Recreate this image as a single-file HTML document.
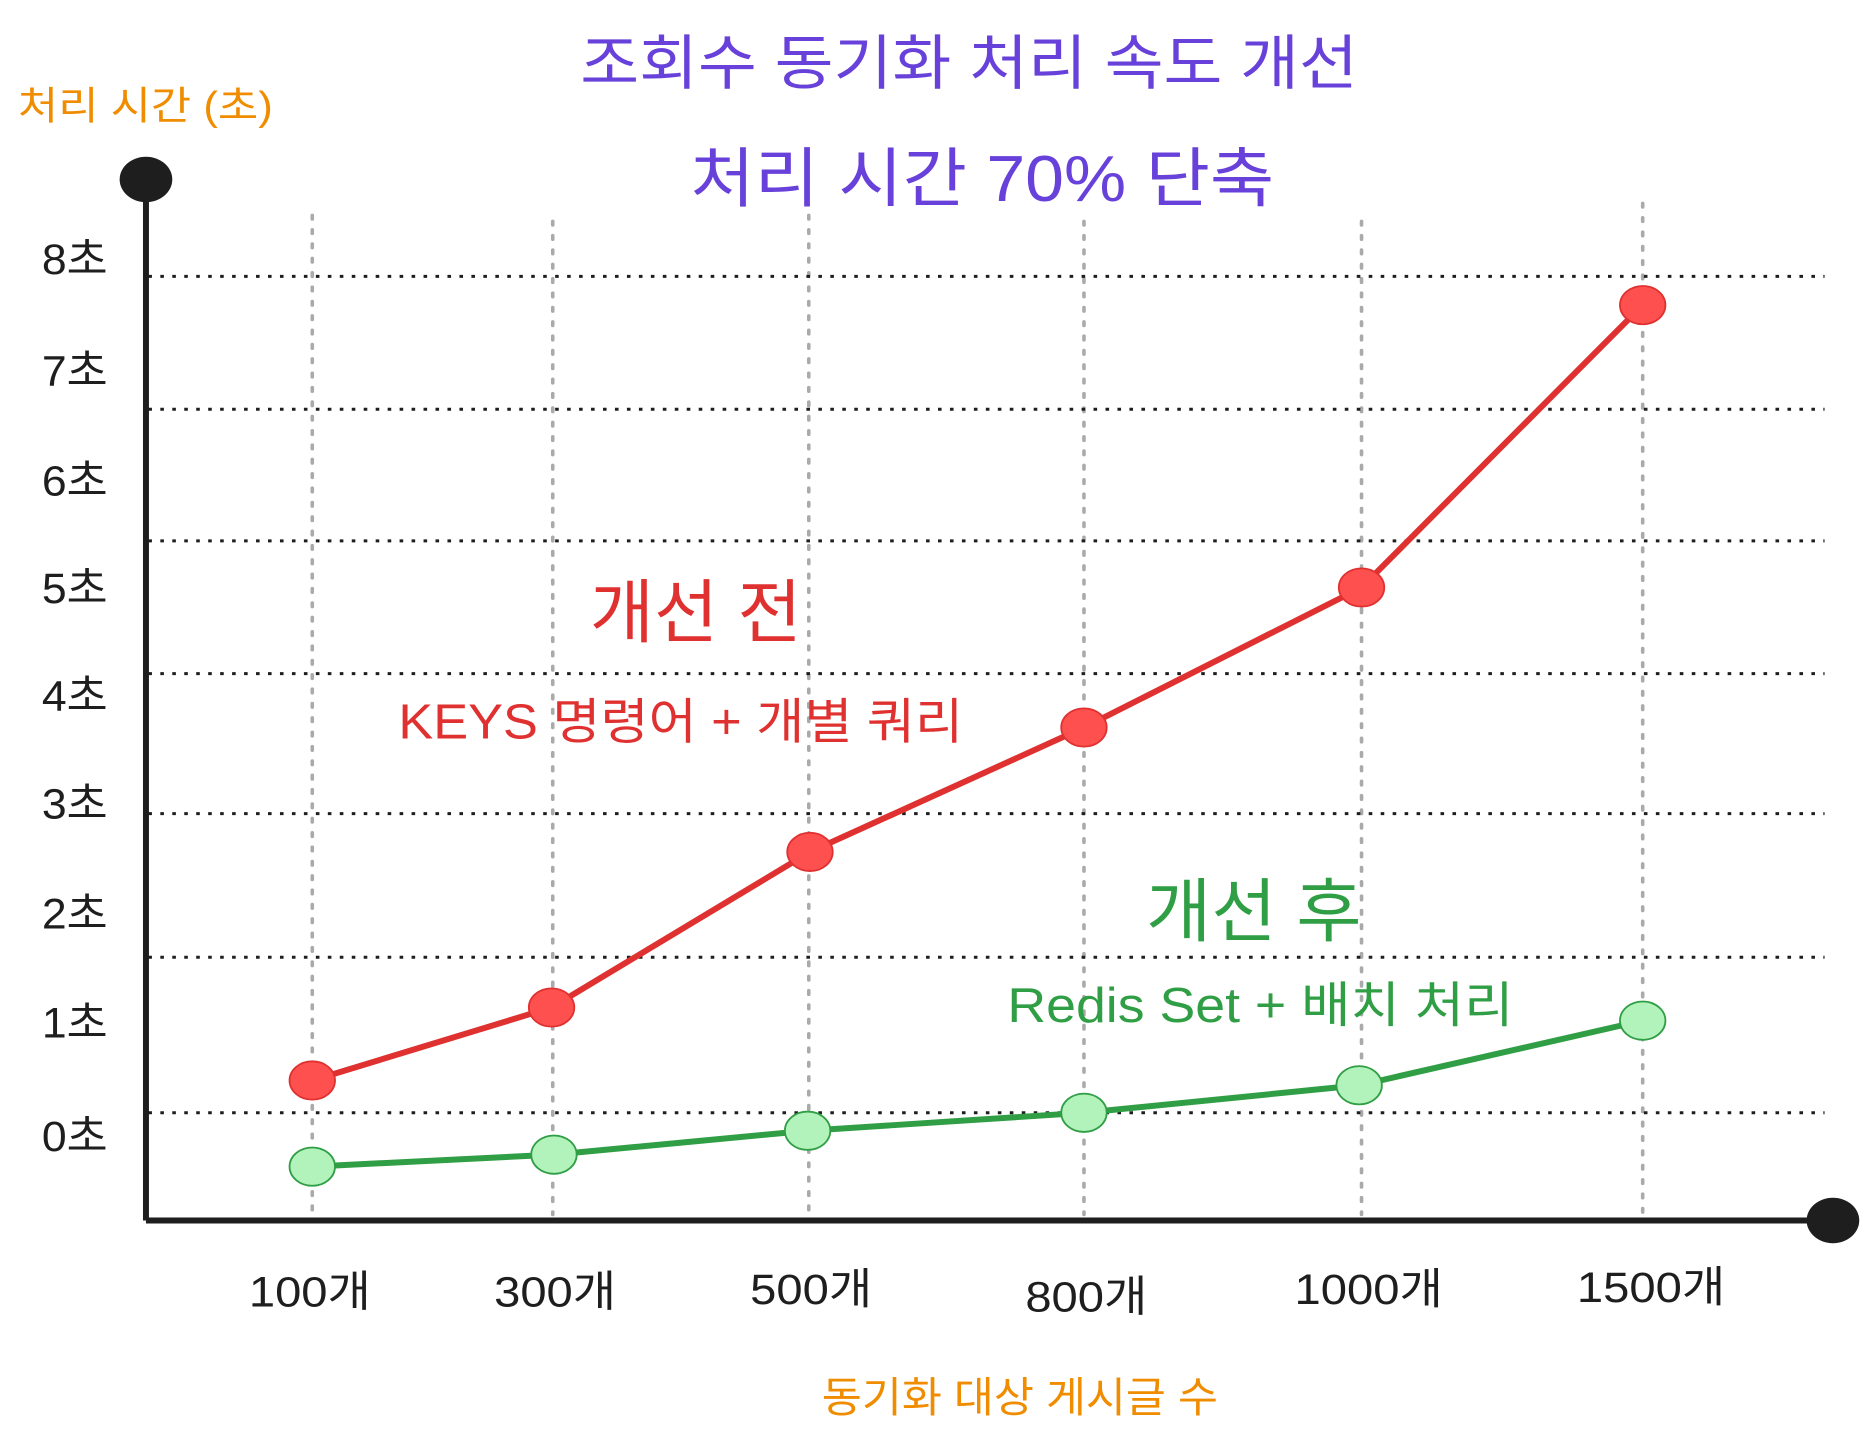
<!DOCTYPE html>
<html><head><meta charset="utf-8"><style>
html,body{margin:0;padding:0;background:#fff;}
svg{display:block;}
text{font-family:"Liberation Sans","Noto Sans CJK KR",sans-serif;}
</style></head><body>
<svg width="1876" height="1449" viewBox="0 0 1568 1211" preserveAspectRatio="none" xmlns="http://www.w3.org/2000/svg">
<rect width="1568" height="1211" fill="#fff"/>
<g stroke="#aaa" stroke-width="3" stroke-dasharray="3,9" stroke-linecap="round">
<line x1="261" y1="180" x2="261" y2="1015"/>
<line x1="462" y1="185" x2="462" y2="1015"/>
<line x1="676" y1="180" x2="676" y2="1015"/>
<line x1="906" y1="185" x2="906" y2="1015"/>
<line x1="1138" y1="185" x2="1138" y2="1015"/>
<line x1="1373" y1="170" x2="1373" y2="1015"/>
</g>
<g stroke="#1e1e1e" stroke-width="2.5" stroke-dasharray="3,7">
<line x1="124" y1="231" x2="1525" y2="231"/>
<line x1="124" y1="342" x2="1525" y2="342"/>
<line x1="124" y1="452" x2="1525" y2="452"/>
<line x1="124" y1="563" x2="1525" y2="563"/>
<line x1="124" y1="680" x2="1525" y2="680"/>
<line x1="124" y1="800" x2="1525" y2="800"/>
<line x1="124" y1="930" x2="1525" y2="930"/>
</g>
<line x1="122" y1="150" x2="122" y2="1020" stroke="#1e1e1e" stroke-width="5"/>
<line x1="122" y1="1020" x2="1530" y2="1020" stroke="#1e1e1e" stroke-width="5"/>
<ellipse cx="122" cy="150" rx="22" ry="19" fill="#1e1e1e"/>
<ellipse cx="1532" cy="1020" rx="22" ry="19" fill="#1e1e1e"/>
<polyline points="261,903 461,842 677,712 906,608 1138,491 1373,255" fill="none" stroke="#e03131" stroke-width="5"/>
<polyline points="261,975 463,965 675,945 906,930 1136,907 1373,853" fill="none" stroke="#2f9e44" stroke-width="5"/>
<g fill="#ff5050" stroke="#e03131" stroke-width="1.5">
<ellipse cx="261" cy="903" rx="19" ry="16"/><ellipse cx="461" cy="842" rx="19" ry="16"/><ellipse cx="677" cy="712" rx="19" ry="16"/><ellipse cx="906" cy="608" rx="19" ry="16"/><ellipse cx="1138" cy="491" rx="19" ry="16"/><ellipse cx="1373" cy="255" rx="19" ry="16"/>
</g>
<g fill="#b2f2bb" stroke="#2f9e44" stroke-width="1.5">
<ellipse cx="261" cy="975" rx="19" ry="16"/><ellipse cx="463" cy="965" rx="19" ry="16"/><ellipse cx="675" cy="945" rx="19" ry="16"/><ellipse cx="906" cy="930" rx="19" ry="16"/><ellipse cx="1136" cy="907" rx="19" ry="16"/><ellipse cx="1373" cy="853" rx="19" ry="16"/>
</g>
<g fill="#6741d9" font-size="50" lengthAdjust="spacingAndGlyphs">
<text x="485" y="70" textLength="650" lengthAdjust="spacingAndGlyphs">조회수 동기화 처리 속도 개선</text>
<text x="577" y="168" font-size="54" textLength="488" lengthAdjust="spacingAndGlyphs">처리 시간 70% 단축</text>
</g>
<text x="15" y="100" fill="#f08c00" font-size="33" textLength="213" lengthAdjust="spacingAndGlyphs">처리 시간 (초)</text>
<text x="687" y="1180" fill="#f08c00" font-size="35" textLength="331" lengthAdjust="spacingAndGlyphs">동기화 대상 게시글 수</text>
<g fill="#1e1e1e" font-size="36">
<text x="35" y="229" textLength="55" lengthAdjust="spacingAndGlyphs">8초</text>
<text x="35" y="322" textLength="55" lengthAdjust="spacingAndGlyphs">7초</text>
<text x="35" y="414" textLength="55" lengthAdjust="spacingAndGlyphs">6초</text>
<text x="35" y="504" textLength="55" lengthAdjust="spacingAndGlyphs">5초</text>
<text x="35" y="594" textLength="55" lengthAdjust="spacingAndGlyphs">4초</text>
<text x="35" y="684" textLength="55" lengthAdjust="spacingAndGlyphs">3초</text>
<text x="35" y="776" textLength="55" lengthAdjust="spacingAndGlyphs">2초</text>
<text x="35" y="867" textLength="55" lengthAdjust="spacingAndGlyphs">1초</text>
<text x="35" y="962" textLength="55" lengthAdjust="spacingAndGlyphs">0초</text>
</g>
<g fill="#1e1e1e" font-size="36">
<text x="208" y="1092" textLength="102" lengthAdjust="spacingAndGlyphs">100개</text>
<text x="413" y="1092" textLength="102" lengthAdjust="spacingAndGlyphs">300개</text>
<text x="627" y="1090" textLength="102" lengthAdjust="spacingAndGlyphs">500개</text>
<text x="857" y="1096" textLength="102" lengthAdjust="spacingAndGlyphs">800개</text>
<text x="1082" y="1090" textLength="124" lengthAdjust="spacingAndGlyphs">1000개</text>
<text x="1318" y="1088" textLength="124" lengthAdjust="spacingAndGlyphs">1500개</text>
</g>
<text x="493" y="532" fill="#e03131" font-size="58" textLength="177" lengthAdjust="spacingAndGlyphs">개선 전</text>
<text x="333" y="617" fill="#e03131" font-size="41" textLength="472" lengthAdjust="spacingAndGlyphs">KEYS 명령어 + 개별 쿼리</text>
<text x="958" y="782" fill="#2f9e44" font-size="58" textLength="180" lengthAdjust="spacingAndGlyphs">개선 후</text>
<text x="842" y="854" fill="#2f9e44" font-size="41" textLength="423" lengthAdjust="spacingAndGlyphs">Redis Set + 배치 처리</text>
</svg>
</body></html>
